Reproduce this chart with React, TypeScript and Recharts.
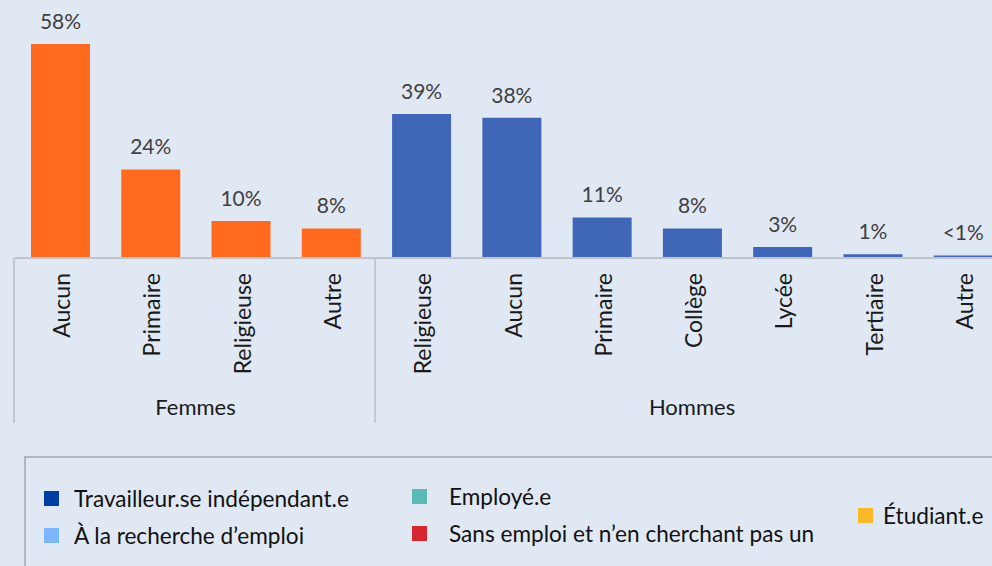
import React from "react";
import { BarChart, Bar, XAxis, YAxis, Cell, LabelList } from "recharts";

const groupNames = ["Femmes", "Hommes"];
const femmesCategories = ["Aucun", "Primaire", "Religieuse", "Autre"];
const femmesValues = [58, 24, 10, 8];
const femmesLabels = ["58%", "24%", "10%", "8%"];
const hommesCategories = ["Religieuse", "Aucun", "Primaire", "Collège", "Lycée", "Tertiaire", "Autre"];
const hommesValues = [39, 38, 11, 8, 3, 1, 0.7];
const hommesLabels = ["39%", "38%", "11%", "8%", "3%", "1%", "<1%"];
const groupColors = ["#FF6A1F", "#4066B8"];

const legendNames = [
  "Travailleur.se indépendant.e",
  "À la recherche d’emploi",
  "Employé.e",
  "Sans emploi et n’en cherchant pas un",
  "Étudiant.e",
];
const legendColors = ["#003DA5", "#7AB5FF", "#5BBAB5", "#D7262F", "#FDB827"];

const groupCats = [femmesCategories, hommesCategories];
const groupVals = [femmesValues, hommesValues];
const groupLbls = [femmesLabels, hommesLabels];

type Row = { key: string; cat: string; value: number; label: string; group: number; first: boolean; count: number };
const data: Row[] = [];
groupCats.forEach((cats, g) => {
  cats.forEach((c, i) => {
    data.push({
      key: `${g}-${i}`,
      cat: c,
      value: groupVals[g][i],
      label: groupLbls[g][i],
      group: g,
      first: i === 0,
      count: cats.length,
    });
  });
});

const FONT = "Lato, 'Noto Sans', sans-serif";
const BG = "#E0E8F4";

const CatTick = (props: any) => {
  const { x, y, payload, index } = props;
  const i = typeof index === "number" ? index : payload.index;
  const row = data[i];
  if (!row) return null;
  const off = payload.offset || 0;
  return (
    <g>
      <text
        x={x + 1}
        y={y + 15}
        transform={`rotate(-90, ${x + 1}, ${y + 15})`}
        textAnchor="end"
        dominantBaseline="central"
        fontFamily={FONT}
        fontSize={23}
        fill="#1a1a1a"
      >
        {row.cat}
      </text>
      {row.first && (
        <g>
          <line x1={x - off - 1} x2={x - off - 1} y1={y} y2={y + 165} stroke="#C4C8CE" strokeWidth={2} />
          <text
            x={x - off + row.count * off}
            y={y + 157}
            textAnchor="middle"
            fontFamily={FONT}
            fontSize={22}
            fill="#1a1a1a"
          >
            {groupNames[row.group]}
          </text>
        </g>
      )}
    </g>
  );
};

const LegendItem = ({ name, color, gap }: { name: string; color: string; gap: number }) => (
  <div style={{ display: "flex", alignItems: "center", height: 37 }}>
    <div style={{ width: 15, height: 15, background: color, marginRight: gap, flex: "none" }} />
    <span style={{ fontFamily: FONT, fontSize: 22.6, color: "#111", whiteSpace: "nowrap" }}>{name}</span>
  </div>
);

export default function App() {
  return (
    <div
      style={{
        position: "fixed",
        left: 0,
        top: 0,
        width: 992,
        height: 566,
        background: BG,
        overflow: "hidden",
      }}
    >
      <div style={{ position: "absolute", left: 0, top: 0 }}>
        <BarChart
          width={1010}
          height={430}
          data={data}
          margin={{ top: 44, right: 2, bottom: 0, left: 15 }}
          barCategoryGap="35%"
        >
          <XAxis
            dataKey="key"
            interval={0}
            tickLine={false}
            tickSize={0}
            tickMargin={0}
            height={172}
            axisLine={{ stroke: "#C0C4CA", strokeWidth: 2 }}
            tick={(p: any) => <CatTick {...p} />}
          />
          <YAxis hide domain={[0, 58]} />
          <Bar dataKey="value" barSize={59} isAnimationActive={false}>
            {data.map((d) => (
              <Cell key={d.key} fill={groupColors[d.group]} />
            ))}
            <LabelList
              dataKey="label"
              position="top"
              offset={15}
              fontFamily={FONT}
              fontSize={21}
              fill="#404040"
            />
          </Bar>
        </BarChart>
      </div>
      <div
        style={{
          position: "absolute",
          left: 24,
          top: 456,
          width: 1000,
          height: 200,
          border: "2px solid #B4B6BA",
          boxSizing: "border-box",
        }}
      >
        <div style={{ position: "absolute", left: 18, top: 22 }}>
          <LegendItem name={legendNames[0]} color={legendColors[0]} gap={15} />
          <LegendItem name={legendNames[1]} color={legendColors[1]} gap={15} />
        </div>
        <div style={{ position: "absolute", left: 386, top: 20 }}>
          <LegendItem name={legendNames[2]} color={legendColors[2]} gap={22} />
          <LegendItem name={legendNames[3]} color={legendColors[3]} gap={22} />
        </div>
        <div style={{ position: "absolute", left: 832, top: 39 }}>
          <LegendItem name={legendNames[4]} color={legendColors[4]} gap={10} />
        </div>
      </div>
    </div>
  );
}
